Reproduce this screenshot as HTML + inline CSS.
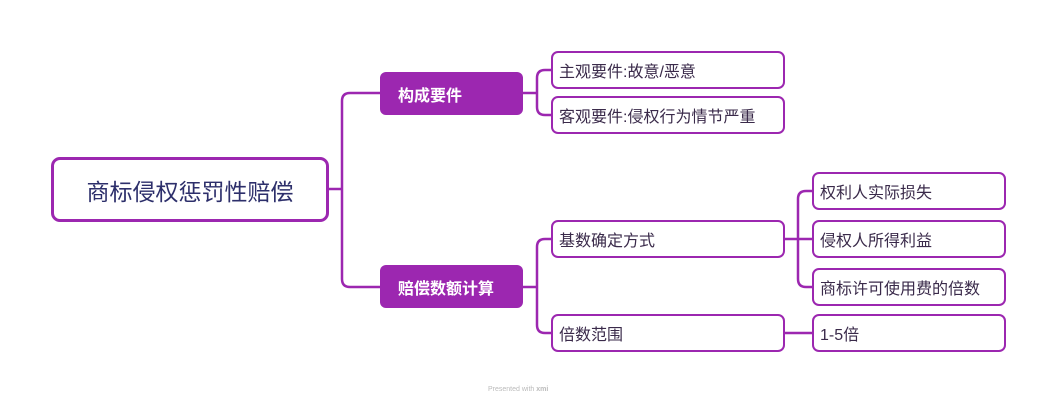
<!DOCTYPE html>
<html><head><meta charset="utf-8"><style>
body{margin:0;background:#fff;width:1058px;height:404px;overflow:hidden;position:relative;font-family:"Liberation Sans","Noto Sans CJK SC",sans-serif}
.n{position:absolute;box-sizing:border-box;border:2px solid #9c27b0;border-radius:7px;background:#fff;color:#3a2a4a;font-size:16px;display:flex;align-items:center;padding-left:6px}
.m{position:absolute;box-sizing:border-box;background:#9c27b0;border-radius:6px;color:#fff;font-size:16px;font-weight:bold;display:flex;align-items:center;padding-left:18px}
svg{position:absolute;left:0;top:0}
</style></head><body>
<svg width="1058" height="404" fill="none" stroke="#9c27b0" stroke-width="2.5">
<path d="M329 189 H342"/>
<path d="M380 93 H350 Q342 93 342 101 V279 Q342 287 350 287 H380"/>
<path d="M523 93 H537"/>
<path d="M551 70 H545 Q537 70 537 78 V107 Q537 115 545 115 H551"/>
<path d="M523 287 H537"/>
<path d="M551 239 H545 Q537 239 537 247 V325 Q537 333 545 333 H551"/>
<path d="M785 239 H812"/>
<path d="M812 191 H806 Q798 191 798 199 V279 Q798 287 806 287 H812"/>
<path d="M785 333 H812"/>
</svg>
<div class="n" style="left:51px;top:157px;width:278px;height:65px;border-width:3px;border-radius:9px;justify-content:center;padding:0;font-size:23px;color:#2d2f6b">商标侵权惩罚性赔偿</div>
<div class="m" style="left:380px;top:72px;width:143px;height:43px">构成要件</div>
<div class="m" style="left:380px;top:265px;width:143px;height:43px">赔偿数额计算</div>
<div class="n" style="left:551px;top:51px;width:234px;height:38px">主观要件:故意/恶意</div>
<div class="n" style="left:551px;top:96px;width:234px;height:38px">客观要件:侵权行为情节严重</div>
<div class="n" style="left:551px;top:220px;width:234px;height:38px">基数确定方式</div>
<div class="n" style="left:551px;top:314px;width:234px;height:38px">倍数范围</div>
<div class="n" style="left:812px;top:172px;width:194px;height:38px">权利人实际损失</div>
<div class="n" style="left:812px;top:220px;width:194px;height:38px">侵权人所得利益</div>
<div class="n" style="left:812px;top:268px;width:194px;height:38px">商标许可使用费的倍数</div>
<div class="n" style="left:812px;top:314px;width:194px;height:38px">1-5倍</div>
<div style="position:absolute;left:488px;top:386px;font-size:7px;color:#bbb">Presented with <b>xmi</b></div>
</body></html>
